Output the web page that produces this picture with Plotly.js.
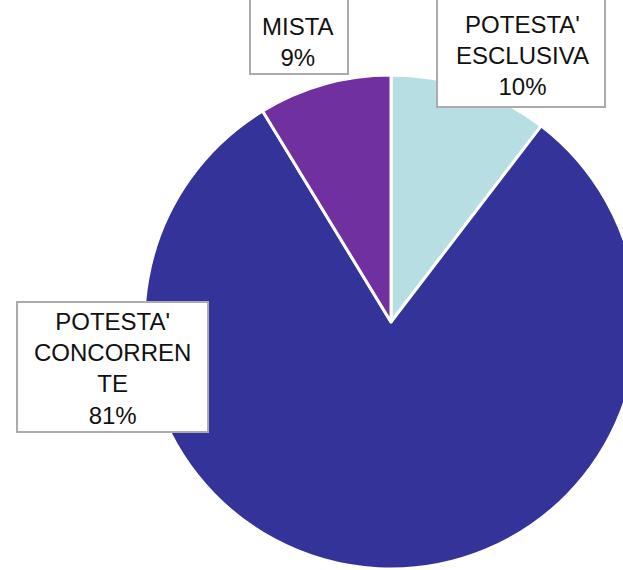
<!DOCTYPE html>
<html>
<head>
<meta charset="utf-8">
<script src="https://cdn.plot.ly/plotly-3.0.1.min.js"></script>
<style>
html,body{margin:0;padding:0;overflow:hidden;background:#fff;width:623px;height:570px;}
#chart{position:absolute;left:0;top:0;width:700px;height:650px;}
</style>
</head>
<body>
<div id="chart"></div>
<script>
// Data
var categories = ["POTESTA' ESCLUSIVA", "POTESTA' CONCORRENTE", "MISTA"];
var labelLines = ["POTESTA'<br>ESCLUSIVA", "POTESTA'<br>CONCORREN<br>TE", "MISTA"];
var values = [10.4, 80.9, 8.7];
var colors = ["#b7dee3", "#333399", "#7030a0"];

var W = 700, H = 650;
// Label boxes (pixels): x0, x1, y0, y1 and text center
var boxes = [
  {x0: 437, x1: 605, y0: -6, y1: 107, tx: 522, ty: 55.5},
  {x0: 17, x1: 208, y0: 302, y1: 432, tx: 112, ty: 368.5},
  {x0: 250, x1: 348, y0: -6, y1: 74, tx: 298, ty: 42}
];

function px(x){ return x / W; }
function py(y){ return 1 - y / H; }

var total = values.reduce(function(a,b){return a+b;}, 0);
var annotations = [], shapes = [];
categories.forEach(function(c, i){
  var pct = Math.round(values[i] / total * 100);
  var b = boxes[i];
  shapes.push({
    type: 'rect', xref: 'paper', yref: 'paper',
    x0: px(b.x0), x1: px(b.x1), y0: py(b.y1), y1: py(b.y0),
    fillcolor: '#ffffff', line: {color: '#ababab', width: 2}, layer: 'above'
  });
  annotations.push({
    text: labelLines[i] + '<br>' + pct + '%',
    xref: 'paper', yref: 'paper',
    x: px(b.tx), y: py(b.ty),
    xanchor: 'center', yanchor: 'middle',
    showarrow: false,
    font: {family: 'Liberation Sans, Arial, sans-serif', size: 24, color: '#111111'}
  });
});

var cx = 391, cy = 322, r = 247;
var trace = {
  type: 'pie',
  labels: categories,
  values: values,
  sort: false,
  direction: 'clockwise',
  rotation: 0,
  marker: {colors: colors, line: {color: '#ffffff', width: 3}},
  textinfo: 'none',
  hoverinfo: 'none',
  domain: {x: [(cx - r) / W, (cx + r) / W], y: [1 - (cy + r) / H, 1 - (cy - r) / H]}
};

var layout = {
  width: W, height: H,
  margin: {l: 0, r: 0, t: 0, b: 0},
  showlegend: false,
  paper_bgcolor: '#ffffff',
  shapes: shapes,
  annotations: annotations
};

Plotly.newPlot('chart', [trace], layout, {displayModeBar: false, staticPlot: true});
</script>
</body>
</html>
